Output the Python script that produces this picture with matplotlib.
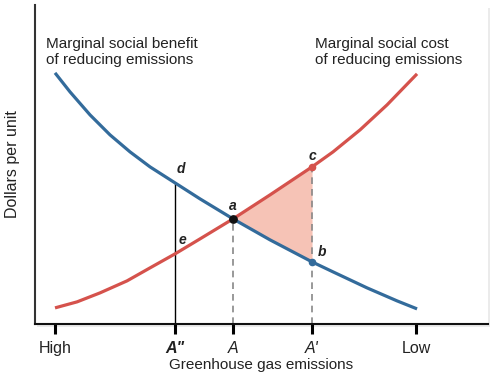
import numpy as np
import matplotlib
matplotlib.use("Agg")
import matplotlib.pyplot as plt

plt.rcParams['font.family'] = ['Liberation Sans', 'DejaVu Sans']

# curves (x = emission level, y = dollars per unit)
msb_x = [20, 35, 55, 75, 95, 115, 140, 165, 198, 235, 277, 298, 332, 362, 382]
msb_y = [251, 232, 209, 189, 172, 157, 141, 125, 105, 84, 62, 52, 36, 23, 15]
msc_x = [20, 42, 65, 92, 115, 140, 165, 198, 235, 277, 298, 325, 352, 382]
msc_y = [16, 22, 31, 43, 56, 70, 85, 105, 129, 157, 172, 194, 219, 250]

tick_pos = [20, 140, 198, 277, 381]
tick_labels = ['High', 'A"', 'A', "A'", 'Low']

# triangle abc (between the curves from A to A')
tri_x = [198, 235, 277]
tri_cost = [105, 129, 157]
tri_benefit = [105, 84, 62]

blue = '#336b9b'
red = '#d5524c'
txt = '#222222'

fig = plt.figure(figsize=(4.93, 3.74), dpi=100)
fig.patch.set_facecolor('white')

# soft shadow behind the panel
shadow = fig.add_axes([0.075, 0.126, 0.919, 0.853])
shadow.set_facecolor('#ebebeb')
shadow.set_xticks([])
shadow.set_yticks([])
for s in shadow.spines.values():
    s.set_visible(False)

ax = fig.add_axes([0.071, 0.134, 0.919, 0.853])
ax.set_facecolor('white')

ax.fill_between(tri_x, tri_cost, tri_benefit, color='#f6c3b6', lw=0, zorder=1)
ax.plot(msb_x, msb_y, color=blue, lw=2.3, solid_capstyle='butt', zorder=3)
ax.plot(msc_x, msc_y, color=red, lw=2.3, solid_capstyle='butt', zorder=3)

ax.vlines(198, 0, 105, colors='#888888', linestyles=(0, (4, 3)), lw=1.2, zorder=2)
ax.vlines(277, 0, 157, colors='#888888', linestyles=(0, (4, 3)), lw=1.2, zorder=2)
ax.vlines(140, 0, 141, colors='black', lw=1.0, zorder=2)

ax.scatter([198], [105], s=28, color='#111111', zorder=5)
ax.scatter([277], [157], s=20, color=red, zorder=5)
ax.scatter([277], [62], s=20, color=blue, zorder=5)

pt_font = dict(fontsize=10, fontstyle='italic', fontweight='bold', color=txt)
ax.text(146, 155, 'd', ha='center', va='center', **pt_font)
ax.text(147, 84, 'e', ha='center', va='center', **pt_font)
ax.text(198, 118, 'a', ha='center', va='center', **pt_font)
ax.text(277, 168, 'c', ha='center', va='center', **pt_font)
ax.text(287, 72, 'b', ha='center', va='center', **pt_font)

ax.text(11, 287, 'Marginal social benefit\nof reducing emissions', fontsize=11,
        color=txt, va='top', ha='left', linespacing=1.2)
ax.text(280, 287, 'Marginal social cost\nof reducing emissions', fontsize=11,
        color=txt, va='top', ha='left', linespacing=1.2)

ax.set_xlim(0, 453)
ax.set_ylim(0, 319)
ax.set_xticks(tick_pos)
ax.set_xticklabels(tick_labels, fontsize=11.5, color=txt)
for lab in ax.get_xticklabels()[1:4]:
    lab.set_fontstyle('italic')
ax.get_xticklabels()[1].set_fontweight('bold')
ax.set_yticks([])
ax.tick_params(axis='x', direction='out', length=7, width=2.2, pad=5, color='black')
ax.set_xlabel('Greenhouse gas emissions', fontsize=11, color=txt, labelpad=2)
ax.set_ylabel('Dollars per unit', fontsize=11.5, color=txt)
ax.yaxis.set_label_coords(-0.033, 0.5)

for s in ['top', 'right']:
    ax.spines[s].set_visible(False)
ax.spines['left'].set_linewidth(1.5)
ax.spines['bottom'].set_linewidth(1.5)
ax.spines['left'].set_color('#333333')
ax.spines['bottom'].set_color('#111111')

plt.savefig('out.png', dpi=100)
